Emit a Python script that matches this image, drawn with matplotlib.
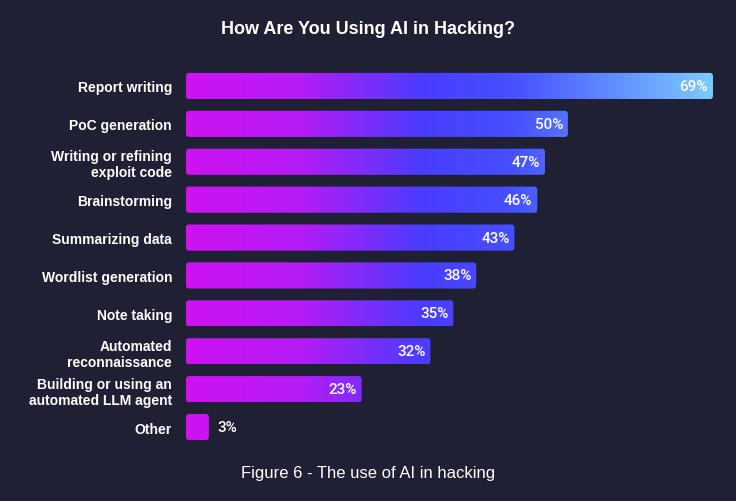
import numpy as np
import matplotlib.pyplot as plt
from matplotlib.patches import FancyBboxPatch
from matplotlib.colors import LinearSegmentedColormap

# Data
categories = ["Report writing", "PoC generation", "Writing or refining\nexploit code",
              "Brainstorming", "Summarizing data", "Wordlist generation", "Note taking",
              "Automated\nreconnaissance", "Building or using an\nautomated LLM agent", "Other"]
values = [69, 50, 47, 46, 43, 38, 35, 32, 23, 3]

bg = "#1f2033"
plt.rcParams['font.family'] = ['Liberation Sans', 'DejaVu Sans']

fig = plt.figure(figsize=(7.36, 5.02), dpi=100, facecolor=bg)
ax = fig.add_axes([0.2527, 0.1096, 0.7160, 0.7549])
ax.set_facecolor(bg)

xmax = max(values)
ax.set_xlim(0, xmax)

# gradient across the whole axis, clipped to each bar
cmap = LinearSegmentedColormap.from_list("grad", [
    (0.0, "#cf12f2"), (0.22, "#b41cf6"), (0.45, "#4a3cff"),
    (0.62, "#4650ff"), (1.0, "#7ccaff")])
grad = np.linspace(0, 1, 512).reshape(1, -1)

bar_h = 0.69
for i, v in enumerate(values):
    patch = FancyBboxPatch((0, i - bar_h / 2), v, bar_h,
                           boxstyle="round,pad=0,rounding_size=0.38",
                           mutation_aspect=0.2,
                           facecolor="none", edgecolor="none")
    ax.add_patch(patch)
    im = ax.imshow(grad, cmap=cmap, aspect="auto",
                   extent=(0, xmax, i + bar_h / 2, i - bar_h / 2),
                   interpolation="bilinear")
    im.set_clip_path(patch)
    if v >= 10:
        ax.annotate(f"{v}%", (v, i), xytext=(-3.5, 0), textcoords="offset points",
                    ha="right", va="center", color="white", fontsize=11,
                    family=["Roboto", "DejaVu Sans"], fontweight="medium")
    else:
        ax.annotate(f"{v}%", (v, i), xytext=(6, 0), textcoords="offset points",
                    ha="left", va="center", color="white", fontsize=11,
                    family=["Roboto", "DejaVu Sans"], fontweight="medium")

ax.set_ylim(len(values) - 0.5, -0.5)
ax.set_yticks(range(len(categories)))
ax.set_yticklabels(categories, color="white", fontsize=10, fontweight="bold")
ax.tick_params(axis="y", length=0, pad=10)
ax.set_xticks([])
for s in ax.spines.values():
    s.set_visible(False)

fig.text(0.5, 0.942, "How Are You Using AI in Hacking?", ha="center", va="center",
         color="white", fontsize=13, fontweight="bold")
fig.text(0.5, 0.056, "Figure 6 - The use of AI in hacking", ha="center", va="center",
         color="white", fontsize=12)

fig.savefig("out.png", dpi=100, facecolor=bg)
